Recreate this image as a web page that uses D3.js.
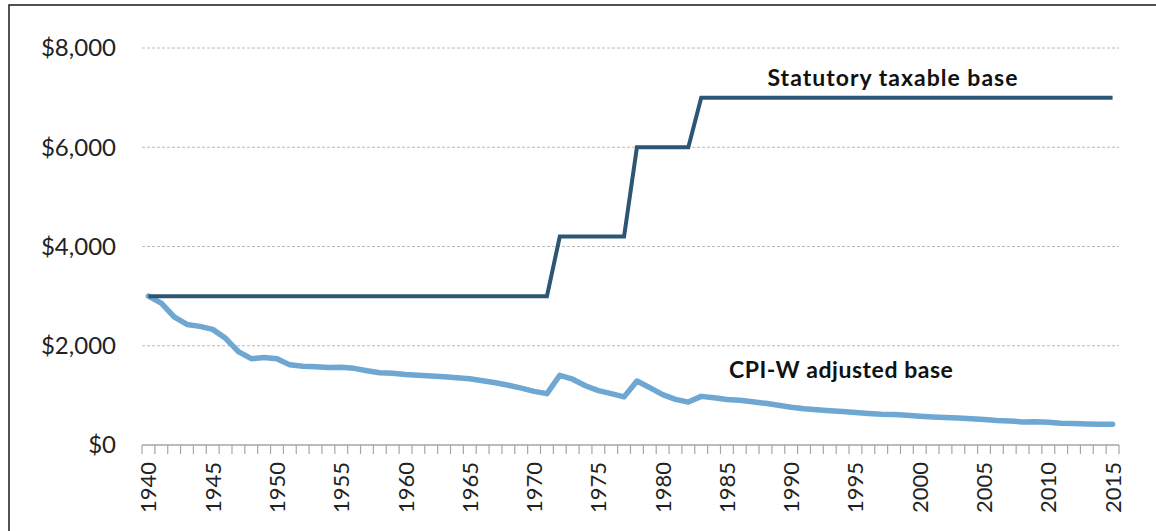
<!DOCTYPE html>
<html>
<head>
<meta charset="utf-8">
<script src="https://cdn.jsdelivr.net/npm/d3@7"></script>
<style>
  html, body { margin: 0; padding: 0; background: #fff; }
  svg { display: block; font-family: Lato, "Open Sans", sans-serif; }
</style>
</head>
<body>
<svg id="chart" width="1156" height="531"></svg>
<script>
document.addEventListener("DOMContentLoaded", function () {
  // categories
  const years = d3.range(1940, 2016);
  const yearLabels = [1940, 1945, 1950, 1955, 1960, 1965, 1970, 1975, 1980, 1985,
                      1990, 1995, 2000, 2005, 2010, 2015];
  const yTicks = [0, 2000, 4000, 6000, 8000];

  // statutory taxable wage base, 1940-2015
  const statutory = [
    3000, 3000, 3000, 3000, 3000, 3000, 3000, 3000, 3000, 3000,   // 1940-49
    3000, 3000, 3000, 3000, 3000, 3000, 3000, 3000, 3000, 3000,   // 1950-59
    3000, 3000, 3000, 3000, 3000, 3000, 3000, 3000, 3000, 3000,   // 1960-69
    3000, 3000, 4200, 4200, 4200, 4200, 4200, 4200, 6000, 6000,   // 1970-79
    6000, 6000, 6000, 7000, 7000, 7000, 7000, 7000, 7000, 7000,   // 1980-89
    7000, 7000, 7000, 7000, 7000, 7000, 7000, 7000, 7000, 7000,   // 1990-99
    7000, 7000, 7000, 7000, 7000, 7000, 7000, 7000, 7000, 7000,   // 2000-09
    7000, 7000, 7000, 7000, 7000, 7000                            // 2010-15
  ];

  // base adjusted by CPI-W (1940 dollars)
  const cpiAdjusted = [
    3000, 2860, 2580, 2430, 2390, 2330, 2150, 1880, 1740, 1765,   // 1940-49
    1740, 1615, 1585, 1575, 1560, 1565, 1545, 1495, 1455, 1445,   // 1950-59
    1420, 1405, 1390, 1375, 1355, 1335, 1295, 1255, 1205, 1145,   // 1960-69
    1080, 1035, 1405, 1325, 1195, 1095, 1035,  970, 1290, 1155,   // 1970-79
    1015,  920,  865,  980,  950,  915,  900,  870,  840,  800,   // 1980-89
     760,  730,  710,  690,  675,  655,  635,  620,  615,  600,   // 1990-99
     580,  565,  555,  545,  530,  515,  495,  485,  465,  470,   // 2000-09
     460,  440,  435,  425,  420,  420                            // 2010-15
  ];

  const svg = d3.select("#chart");

  // outer frame (only left and top edges fall inside the picture)
  svg.append("rect")
    .attr("x", 9).attr("y", 5)
    .attr("width", 1160).attr("height", 540)
    .attr("fill", "none")
    .attr("stroke", "#1a1a1a")
    .attr("stroke-width", 1.5);

  const left = 142, right = 1119, top = 48, bottom = 445;

  const x = d3.scalePoint()
    .domain(years)
    .range([left, right])
    .padding(0.5);
  const step = x.step();

  const y = d3.scaleLinear()
    .domain([0, 8000])
    .range([bottom, top]);

  // dashed gridlines
  svg.selectAll("line.grid")
    .data(yTicks.filter(d => d > 0))
    .join("line")
      .attr("class", "grid")
      .attr("x1", left).attr("x2", right)
      .attr("y1", d => y(d)).attr("y2", d => y(d))
      .attr("stroke", "#bcbcbc")
      .attr("stroke-width", 1)
      .attr("stroke-dasharray", "3,2");

  // y labels
  svg.selectAll("text.ylab")
    .data(yTicks)
    .join("text")
      .attr("class", "ylab")
      .attr("x", 116)
      .attr("y", d => y(d))
      .attr("dy", "0.35em")
      .attr("text-anchor", "end")
      .attr("font-size", "24px")
      .attr("fill", "#222")
      .text(d => d3.format("$,")(d));

  // x axis line and ticks between categories
  svg.append("line")
    .attr("x1", left).attr("x2", right)
    .attr("y1", bottom).attr("y2", bottom)
    .attr("stroke", "#a6a6a6")
    .attr("stroke-width", 1.5);

  const tickPos = d3.range(years.length + 1).map(i => left + i * step);
  svg.selectAll("line.xtick")
    .data(tickPos)
    .join("line")
      .attr("class", "xtick")
      .attr("x1", d => d).attr("x2", d => d)
      .attr("y1", bottom).attr("y2", bottom + 9)
      .attr("stroke", "#a6a6a6")
      .attr("stroke-width", 1.2);

  // rotated year labels
  svg.selectAll("text.xlab")
    .data(yearLabels)
    .join("text")
      .attr("class", "xlab")
      .attr("transform", d => `translate(${x(d) + 8},462) rotate(-90)`)
      .attr("text-anchor", "end")
      .attr("font-size", "22px")
      .attr("fill", "#222")
      .text(d => d);

  // lines
  const line = d3.line()
    .x((d, i) => x(years[i]))
    .y(d => y(d));

  svg.append("path")
    .datum(cpiAdjusted)
    .attr("d", line)
    .attr("fill", "none")
    .attr("stroke", "#6fa7d3")
    .attr("stroke-width", 5.5)
    .attr("stroke-linejoin", "round")
    .attr("stroke-linecap", "round");

  svg.append("path")
    .datum(statutory)
    .attr("d", line)
    .attr("fill", "none")
    .attr("stroke", "#2d5675")
    .attr("stroke-width", 4)
    .attr("stroke-linejoin", "miter");

  // series labels
  svg.append("text")
    .attr("x", x(1988) + 2)
    .attr("y", y(7000) - 12)
    .attr("font-size", "23px")
    .attr("font-weight", "bold")
    .attr("fill", "#111")
    .attr("textLength", 250)
    .attr("lengthAdjust", "spacing")
    .text("Statutory taxable base");

  svg.append("text")
    .attr("x", x(1985) + 2)
    .attr("y", y(1350))
    .attr("font-size", "23px")
    .attr("font-weight", "bold")
    .attr("fill", "#111")
    .attr("textLength", 224)
    .attr("lengthAdjust", "spacing")
    .text("CPI-W adjusted base");
});
</script>
</body>
</html>
